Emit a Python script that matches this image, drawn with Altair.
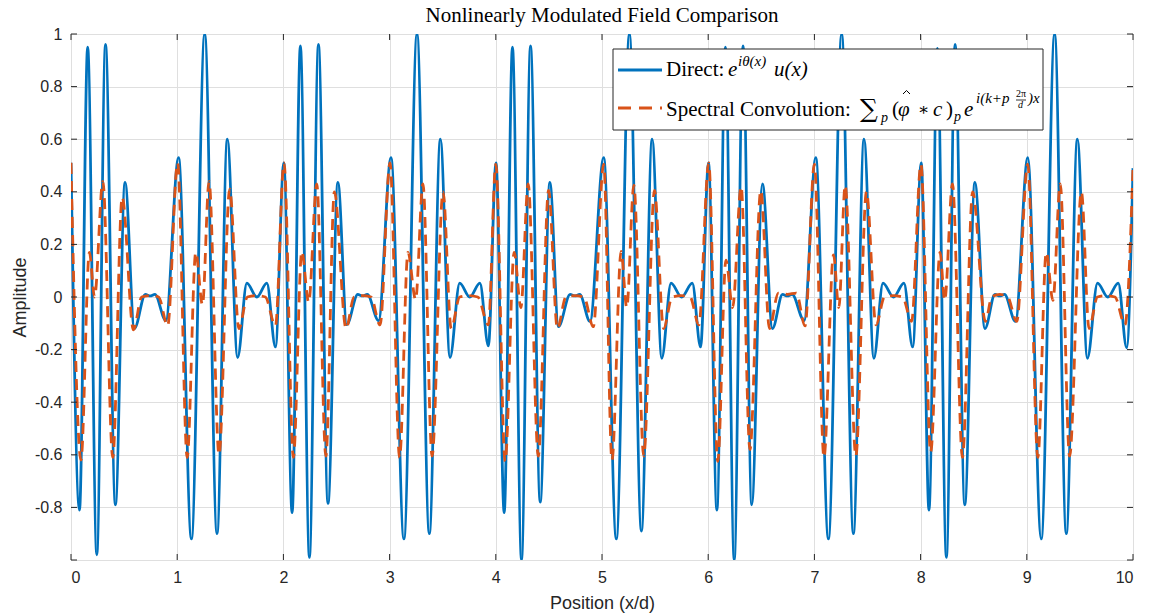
import altair as alt
import pandas as pd

# ---------------- data ----------------
blue_x = [
    0.000, 0.080, 0.157, 0.243, 0.325, 0.418, 0.509, 0.597, 0.700, 0.745, 0.790, 0.893,
    1.013, 1.134, 1.259, 1.375, 1.472, 1.569, 1.656, 1.750, 1.844, 1.925,
    2.004, 2.082, 2.160, 2.245, 2.330, 2.420, 2.513, 2.597, 2.700, 2.745, 2.790, 2.896,
    3.013, 3.135, 3.258, 3.374, 3.478, 3.569, 3.660, 3.755, 3.850, 3.930,
    4.002, 4.079, 4.157, 4.242, 4.327, 4.418, 4.509, 4.590, 4.700, 4.745, 4.790, 4.887,
    5.016, 5.135, 5.258, 5.371, 5.472, 5.563, 5.650, 5.750, 5.850, 5.928,
    6.003, 6.082, 6.162, 6.245, 6.328, 6.410, 6.511, 6.605, 6.700, 6.745, 6.790, 6.903,
    7.013, 7.132, 7.257, 7.367, 7.467, 7.560, 7.646, 7.745, 7.843, 7.925,
    8.006, 8.079, 8.158, 8.243, 8.325, 8.416, 8.511, 8.606, 8.700, 8.745, 8.790, 8.893,
    9.009, 9.136, 9.262, 9.372, 9.476, 9.571, 9.666, 9.763, 9.861, 9.940, 10.000,
]
blue_y = [
    0.51, -0.81, 0.95, -0.98, 0.96, -0.79, 0.436, -0.12, 0.01, 0.004, 0.01, -0.09,
    0.53, -0.92, 1.0, -0.90, 0.60, -0.23, 0.053, 0.0, 0.053, -0.19,
    0.51, -0.82, 0.955, -0.99, 0.96, -0.785, 0.436, -0.105, 0.01, 0.004, 0.01, -0.09,
    0.53, -0.92, 1.0, -0.90, 0.60, -0.23, 0.053, 0.0, 0.053, -0.186,
    0.51, -0.82, 0.95, -1.0, 0.955, -0.78, 0.436, -0.113, 0.01, 0.004, 0.01, -0.093,
    0.53, -0.92, 1.0, -0.89, 0.60, -0.233, 0.053, 0.0, 0.053, -0.19,
    0.51, -0.81, 0.95, -1.0, 0.955, -0.79, 0.43, -0.12, 0.01, 0.004, 0.01, -0.09,
    0.53, -0.92, 1.0, -0.90, 0.60, -0.233, 0.053, 0.0, 0.053, -0.19,
    0.51, -0.81, 0.945, -0.99, 0.96, -0.79, 0.436, -0.12, 0.01, 0.004, 0.01, -0.093,
    0.53, -0.92, 1.0, -0.90, 0.60, -0.233, 0.053, 0.0, 0.053, -0.193, 0.49,
]

orange_x = [
    0.000, 0.094, 0.173, 0.222, 0.300, 0.393, 0.482, 0.588, 0.665, 0.745, 0.825, 0.910,
    1.004, 1.094, 1.175, 1.238, 1.300, 1.394, 1.494, 1.581, 1.660, 1.745, 1.830, 1.925,
    2.006, 2.094, 2.173, 2.238, 2.314, 2.400, 2.480, 2.590, 2.665, 2.745, 2.825, 2.910,
    3.004, 3.094, 3.173, 3.245, 3.314, 3.400, 3.503, 3.580, 3.660, 3.745, 3.830, 3.930,
    4.000, 4.088, 4.173, 4.236, 4.305, 4.400, 4.497, 4.580, 4.660, 4.745, 4.830, 4.918,
    5.016, 5.094, 5.180, 5.233, 5.300, 5.393, 5.494, 5.580, 5.660, 5.745, 5.830, 5.912,
    6.005, 6.090, 6.167, 6.230, 6.310, 6.393, 6.495, 6.577, 6.660, 6.745, 6.830, 6.912,
    7.000, 7.090, 7.180, 7.230, 7.290, 7.390, 7.490, 7.580, 7.660, 7.745, 7.830, 7.915,
    8.003, 8.095, 8.183, 8.227, 8.300, 8.394, 8.490, 8.610, 8.670, 8.745, 8.820, 8.905,
    9.009, 9.104, 9.183, 9.246, 9.315, 9.403, 9.514, 9.586, 9.665, 9.745, 9.830, 9.924, 10.000,
]
orange_y = [
    0.51, -0.62, 0.17, 0.0, 0.44, -0.61, 0.38, -0.125, 0.0, 0.005, 0.0, -0.11,
    0.51, -0.61, 0.17, -0.03, 0.44, -0.60, 0.41, -0.12, 0.0, 0.005, 0.0, -0.11,
    0.51, -0.61, 0.173, -0.02, 0.43, -0.605, 0.40, -0.12, 0.0, 0.005, 0.0, -0.106,
    0.51, -0.61, 0.17, -0.01, 0.43, -0.605, 0.40, -0.12, 0.0, 0.005, 0.0, -0.106,
    0.505, -0.625, 0.17, -0.04, 0.43, -0.605, 0.405, -0.12, 0.0, 0.005, 0.0, -0.113,
    0.505, -0.62, 0.173, -0.04, 0.425, -0.605, 0.405, -0.12, 0.0, 0.005, 0.0, -0.106,
    0.51, -0.625, 0.14, -0.04, 0.42, -0.58, 0.405, -0.12, 0.015, 0.01, 0.015, -0.11,
    0.505, -0.61, 0.16, -0.04, 0.425, -0.605, 0.40, -0.106, 0.0, 0.005, 0.0, -0.093,
    0.505, -0.59, 0.17, -0.013, 0.43, -0.61, 0.40, -0.093, 0.0, 0.01, 0.0, -0.093,
    0.505, -0.61, 0.17, -0.013, 0.43, -0.605, 0.40, -0.12, 0.0, 0.005, 0.0, -0.106, 0.49,
]

x_ticks = [0, 1, 2, 3, 4, 5, 6, 7, 8, 9, 10]
y_ticks = [-1, -0.8, -0.6, -0.4, -0.2, 0, 0.2, 0.4, 0.6, 0.8, 1]

# ---------------- chart ----------------
W, H = 1062, 526
DARK = "#262626"
BLUE = "#0072BD"
ORANGE = "#D95319"
SANS = "Liberation Sans"
SERIF = "Liberation Serif"

df_blue = pd.DataFrame({"x": blue_x, "y": blue_y})
df_orange = pd.DataFrame({"x": orange_x, "y": orange_y})
df_xt = pd.DataFrame({"x": x_ticks})
df_yt = pd.DataFrame({"y": y_ticks})
one = pd.DataFrame({"k": [0]})

x_scale = alt.Scale(domain=[0, 10], nice=False, zero=False)
y_scale = alt.Scale(domain=[-1, 1], nice=False, zero=False)

x_axis = alt.Axis(
    values=x_ticks, grid=True, gridColor="#dfdfdf", gridWidth=1,
    ticks=False, tickSize=0, domain=False,
    labelFont=SANS, labelFontSize=16, labelColor=DARK, labelPadding=9,
    labelExpr="'' + datum.value",
    title="Position (x/d)", titleFont=SANS, titleFontSize=18, titleFontWeight="normal",
    titleColor=DARK, titleY=43, titleBaseline="middle",
)
y_axis = alt.Axis(
    values=y_ticks, grid=True, gridColor="#dfdfdf", gridWidth=1,
    ticks=False, tickSize=0, domain=False,
    labelFont=SANS, labelFontSize=16, labelColor=DARK, labelPadding=9,
    labelExpr="datum.value < -0.99 ? '' : '' + datum.value",
    title="Amplitude", titleFont=SANS, titleFontSize=18, titleFontWeight="normal",
    titleColor=DARK, titleX=-51, titleY=H / 2, titleBaseline="middle", titleAngle=-90,
)

X = alt.X("x:Q", scale=x_scale, axis=x_axis)
Y = alt.Y("y:Q", scale=y_scale, axis=y_axis)

blue = alt.Chart(df_blue).mark_line(
    color=BLUE, strokeWidth=2.8, interpolate="monotone", clip=True
).encode(x=X, y=Y)
orange = alt.Chart(df_orange).mark_line(
    color=ORANGE, strokeWidth=2.8, strokeDash=[11, 7], interpolate="monotone", clip=True
).encode(x=X, y=Y)

# inward ticks on all four sides
tick_b = alt.Chart(df_xt).mark_rule(color=DARK, strokeWidth=1).encode(
    x=X, y=alt.value(H), y2=alt.value(H - 6))
tick_t = alt.Chart(df_xt).mark_rule(color=DARK, strokeWidth=1).encode(
    x=X, y=alt.value(0), y2=alt.value(6))
tick_l = alt.Chart(df_yt).mark_rule(color=DARK, strokeWidth=1).encode(
    y=Y, x=alt.value(0), x2=alt.value(6))
tick_r = alt.Chart(df_yt).mark_rule(color=DARK, strokeWidth=1).encode(
    y=Y, x=alt.value(W), x2=alt.value(W - 6))

# legend box (drawn by hand so the math can be typeset)
leg_box = alt.Chart(one).mark_rect(fill="white", stroke=DARK, strokeWidth=1).encode(
    x=alt.value(542), x2=alt.value(972), y=alt.value(15), y2=alt.value(96))
leg_blue = alt.Chart(one).mark_rule(color=BLUE, strokeWidth=2.8).encode(
    x=alt.value(547), x2=alt.value(591), y=alt.value(36))
leg_orange = alt.Chart(one).mark_rule(color=ORANGE, strokeWidth=2.8, strokeDash=[13, 8]).encode(
    x=alt.value(547), x2=alt.value(591), y=alt.value(74))


def txt(s, x, y, size=21, italic=False, font=SERIF):
    return alt.Chart(one).mark_text(
        text=s, font=font, fontSize=size, align="left", baseline="alphabetic",
        color="black", fontStyle="italic" if italic else "normal",
    ).encode(x=alt.value(x), y=alt.value(y))


def seg(x1, y1, x2, y2, w=1.0):
    return alt.Chart(one).mark_rule(color="black", strokeWidth=w).encode(
        x=alt.value(x1), y=alt.value(y1), x2=alt.value(x2), y2=alt.value(y2))


legend_layers = [
    leg_box, leg_blue, leg_orange,
    # line 1
    txt("Direct:", 595, 42),
    txt("e", 657, 42, italic=True),
    txt("iθ(x)", 667, 32, size=15, italic=True),
    txt("u(x)", 703, 42, italic=True),
    # line 2
    txt("Spectral Convolution:", 595, 82),
    txt("∑", 789, 83, size=25, font="DejaVu Serif"),
    txt("p", 810, 88, size=14, italic=True),
    txt("(", 821, 82),
    txt("φ", 827, 82, italic=True),
    seg(832, 60, 835.5, 56.5), seg(835.5, 56.5, 839, 60),
    txt("∗", 847, 81, size=17, font="DejaVu Serif"),
    txt("c", 862, 82, italic=True),
    txt(")", 875, 82),
    txt("p", 883, 87, size=14, italic=True),
    txt("e", 893, 82, italic=True),
    txt("i(k+p", 905, 69, size=15, italic=True),
    txt("2π", 945, 63, size=10),
    txt("d", 947, 74, size=10, italic=True),
    seg(945, 66, 955, 66, 0.8),
    txt(")x", 957, 69, size=15, italic=True),
]

chart = alt.layer(
    blue, orange, tick_b, tick_t, tick_l, tick_r, *legend_layers
).properties(
    width=W, height=H,
    title=alt.TitleParams(
        "Nonlinearly Modulated Field Comparison", font=SERIF, fontSize=21,
        fontWeight="normal", color="black", anchor="middle", offset=0,
    ),
    autosize=alt.AutoSizeParams(type="none"),
    padding={"left": 71, "top": 34, "right": 25, "bottom": 54},
).configure_view(
    stroke=DARK, strokeWidth=1
).configure(background="white")

chart.save("out.html", embed_options={"renderer": "svg", "actions": False})
